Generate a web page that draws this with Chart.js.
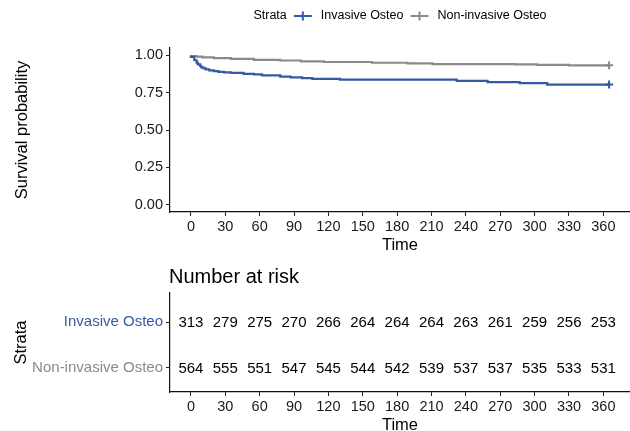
<!DOCTYPE html>
<html><head><meta charset="utf-8">
<script src="https://cdn.jsdelivr.net/npm/chart.js@4.4.1/dist/chart.umd.min.js"></script>
<style>
html,body{margin:0;padding:0;background:#fff;overflow:hidden;width:630px;height:431px}
canvas{position:absolute;left:0}
</style></head>
<body>
<canvas id="km" width="630" height="260" style="top:0"></canvas>
<canvas id="risk" width="630" height="180" style="top:260px"></canvas>
<script>
const strata = ['Invasive Osteo', 'Non-invasive Osteo'];
const strataColors = ['#3559A4', '#8A8A8A'];
const timeTicks = [0, 30, 60, 90, 120, 150, 180, 210, 240, 270, 300, 330, 360];
const survTicks = [0, 0.25, 0.5, 0.75, 1];

const invasiveTime = [0, 3, 5, 6, 8, 9, 11, 13, 16, 20, 24, 29, 35, 46, 55, 62, 78, 87, 97, 106, 130, 232, 259, 287, 311, 345, 365];
const invasiveSurv = [1.0, 0.99, 0.968, 0.952, 0.94, 0.93, 0.92, 0.913, 0.907, 0.90, 0.895, 0.89, 0.887, 0.883, 0.877, 0.873, 0.866, 0.858, 0.853, 0.848, 0.843, 0.838, 0.829, 0.821, 0.815, 0.805, 0.805];

const nonInvasiveTime = [0, 5, 10, 20, 35, 55, 78, 96, 116, 158, 189, 211, 283, 302, 330, 354, 365];
const nonInvasiveSurv = [1.0, 0.996, 0.992, 0.987, 0.982, 0.977, 0.971, 0.966, 0.960, 0.956, 0.951, 0.947, 0.942, 0.940, 0.937, 0.934, 0.934];

const riskInvasive = [313, 279, 275, 270, 266, 264, 264, 264, 263, 261, 259, 256, 253];
const riskNonInvasive = [564, 555, 551, 547, 545, 544, 542, 539, 537, 537, 535, 533, 531];

const FONT = '"Liberation Sans", Arial, sans-serif';
Chart.defaults.font.family = FONT;
Chart.defaults.color = '#1a1a1a';

const X_MIN = -18.25, X_MAX = 383.25;

function xAxis() {
  return {
    type: 'linear', min: X_MIN, max: X_MAX,
    afterBuildTicks: s => { s.ticks = timeTicks.map(v => ({ value: v })); },
    ticks: { font: { size: 14.5 }, color: '#1a1a1a', padding: 2, maxRotation: 0, autoSkip: false, callback: v => String(v) },
    grid: { display: true, drawOnChartArea: false, drawTicks: true, tickLength: 4, color: '#222', lineWidth: 1 },
    border: { display: true, color: '#111', width: 1.2 },
    title: { display: true, text: 'Time', font: { size: 16.5 }, color: '#000', padding: { top: 0, bottom: 5 } },
    afterFit: s => { s.height = 48; s.paddingLeft = 0; s.paddingRight = 0; }
  };
}

const legendPlugin = {
  id: 'topLegend',
  afterDraw(chart) {
    const ctx = chart.ctx;
    const ca = chart.chartArea;
    ctx.save();
    ctx.font = '12.5px ' + FONT;
    ctx.textBaseline = 'middle';
    const y = 16;
    const symW = 18, g1 = 7, g2 = 9;
    const wS = ctx.measureText('Strata').width;
    const ws = strata.map(s => ctx.measureText(s).width);
    const total = wS + ws.reduce((a, w) => a + g1 + symW + g2 + w, 0);
    let x = (ca.left + ca.right) / 2 - total / 2;
    ctx.fillStyle = '#000';
    ctx.textAlign = 'left';
    ctx.fillText('Strata', x, y);
    x += wS;
    strata.forEach((s, i) => {
      x += g1;
      ctx.strokeStyle = strataColors[i];
      ctx.lineWidth = 2;
      ctx.beginPath();
      ctx.moveTo(x, y); ctx.lineTo(x + symW, y);
      ctx.moveTo(x + symW / 2, y - 4.5); ctx.lineTo(x + symW / 2, y + 4.5);
      ctx.stroke();
      x += symW + g2;
      ctx.fillStyle = '#000';
      ctx.fillText(s, x, y);
      x += ws[i];
    });
    ctx.restore();
  }
};

function kmSeries(times, surv, label, color) {
  const last = times.length - 1;
  return {
    label, borderColor: color, backgroundColor: color,
    data: times.map((t, i) => ({ x: t, y: surv[i] })),
    stepped: 'after', borderWidth: 2.2, fill: false,
    pointStyle: 'cross',
    pointRadius: ctx => ctx.dataIndex === last ? 4 : 0,
    pointBorderWidth: 2, pointBorderColor: color,
    pointHoverRadius: 0
  };
}

new Chart(document.getElementById('km'), {
  type: 'line',
  data: {
    datasets: [
      kmSeries(invasiveTime, invasiveSurv, strata[0], strataColors[0]),
      kmSeries(nonInvasiveTime, nonInvasiveSurv, strata[1], strataColors[1])
    ]
  },
  options: {
    responsive: false, animation: false, devicePixelRatio: 1,
    layout: { autoPadding: false, padding: { top: 48, left: 0, right: 0, bottom: 0 } },
    plugins: { legend: { display: false }, tooltip: { enabled: false } },
    scales: {
      x: xAxis(),
      y: {
        type: 'linear', min: -0.05, max: 1.05,
        afterBuildTicks: s => { s.ticks = survTicks.map(v => ({ value: v })); },
        ticks: { font: { size: 14.5 }, color: '#1a1a1a', padding: 3, callback: v => Number(v).toFixed(2) },
        grid: { display: true, drawOnChartArea: false, drawTicks: true, tickLength: 4, color: '#222', lineWidth: 1 },
        border: { display: true, color: '#111', width: 1.2 },
        title: { display: true, text: 'Survival probability', font: { size: 16.5 }, color: '#000', padding: { top: 13, bottom: 0 } },
        afterFit: s => { s.width = 170; s.paddingTop = 0; s.paddingBottom = 0; }
      }
    }
  },
  plugins: [legendPlugin]
});

const riskPlugin = {
  id: 'riskText',
  afterDatasetsDraw(chart) {
    const ctx = chart.ctx;
    ctx.save();
    ctx.font = '15px ' + FONT;
    ctx.fillStyle = '#000';
    ctx.textAlign = 'center';
    ctx.textBaseline = 'middle';
    chart.data.datasets.forEach((ds, di) => {
      const meta = chart.getDatasetMeta(di);
      meta.data.forEach((el, i) => {
        ctx.fillText(String(ds.data[i].n), el.x, el.y + 1);
      });
    });
    ctx.font = '20px ' + FONT;
    ctx.textAlign = 'left';
    ctx.fillText('Number at risk', chart.chartArea.left - 1, 17.5);
    ctx.restore();
  }
};

const rowValue = [2, 1];
new Chart(document.getElementById('risk'), {
  type: 'scatter',
  data: {
    datasets: [riskInvasive, riskNonInvasive].map((arr, r) => ({
      label: strata[r],
      data: arr.map((n, i) => ({ x: timeTicks[i], y: rowValue[r], n })),
      pointRadius: 0, pointHoverRadius: 0
    }))
  },
  options: {
    responsive: false, animation: false, devicePixelRatio: 1,
    layout: { autoPadding: false, padding: { top: 33, left: 0, right: 0, bottom: 0 } },
    plugins: { legend: { display: false }, tooltip: { enabled: false } },
    scales: {
      x: xAxis(),
      y: {
        type: 'linear', min: 0.47, max: 2.64,
        afterBuildTicks: s => { s.ticks = rowValue.map(v => ({ value: v })); },
        ticks: {
          font: { size: 15 }, padding: 3,
          color: c => strataColors[rowValue.indexOf(c.tick.value)],
          callback: v => strata[rowValue.indexOf(v)]
        },
        grid: { display: true, drawOnChartArea: false, drawTicks: true, tickLength: 4, color: '#222', lineWidth: 1 },
        border: { display: true, color: '#111', width: 1.2 },
        title: { display: true, text: 'Strata', font: { size: 16.5 }, color: '#000', padding: { top: 12, bottom: 0 } },
        afterFit: s => { s.width = 170; s.paddingTop = 0; s.paddingBottom = 0; }
      }
    }
  },
  plugins: [riskPlugin]
});
</script>
</body></html>
